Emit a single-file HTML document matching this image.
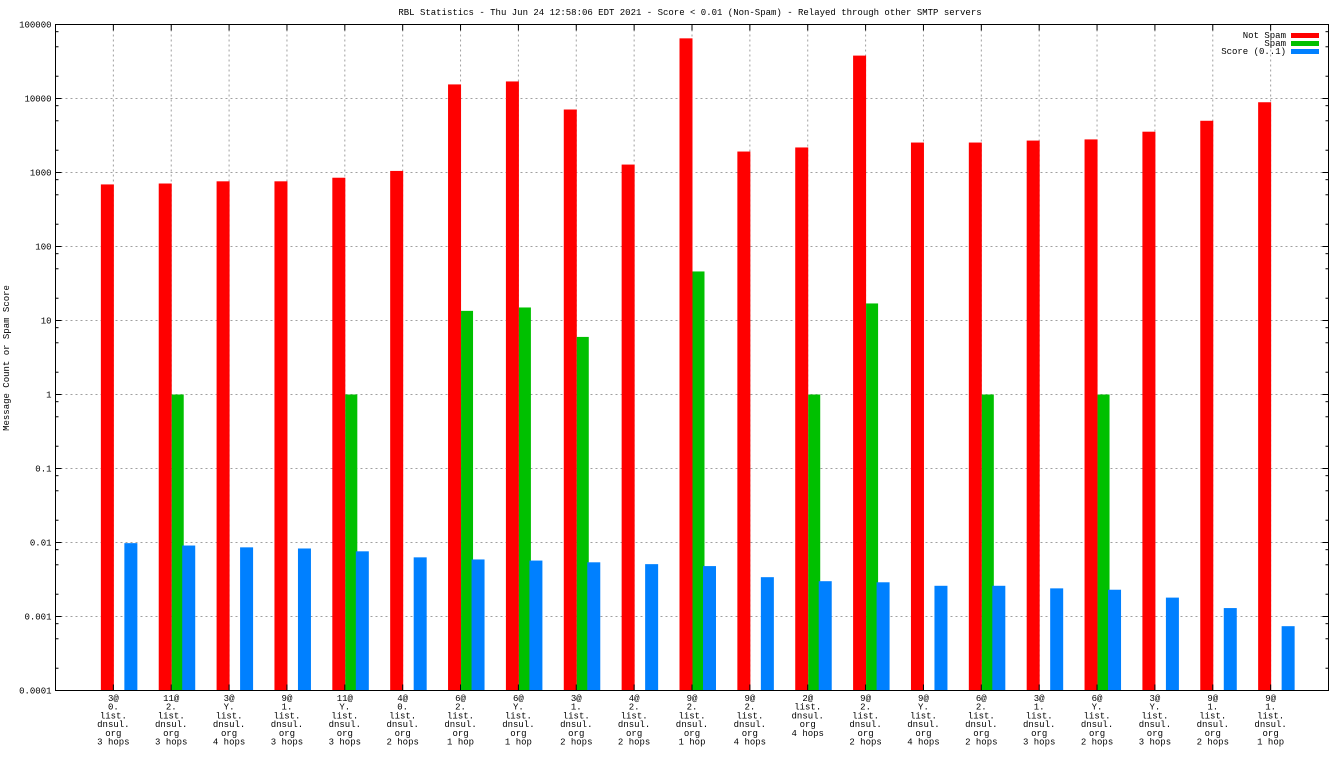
<!DOCTYPE html>
<html><head><meta charset="utf-8"><style>
body{margin:0;background:#fff;}
svg text{font-family:"Liberation Mono",monospace;font-size:9px;fill:#000;}
</style></head><body>
<svg id="chart" width="1344" height="756" xmlns="http://www.w3.org/2000/svg">
<text x="690" y="15" text-anchor="middle">RBL Statistics - Thu Jun 24 12:58:06 EDT 2021 - Score &lt; 0.01 (Non-Spam) - Relayed through other SMTP servers</text>
<text transform="translate(9,358) rotate(-90)" text-anchor="middle">Message Count or Spam Score</text>
<g id="grid"></g><g id="bars"></g><g id="axes"></g><g id="labels"></g>
<g>
<text x="1286" y="38" text-anchor="end">Not Spam</text><rect x="1291" y="33" width="28" height="5" fill="#ff0000"/>
<text x="1286" y="46" text-anchor="end">Spam</text><rect x="1291" y="41" width="28" height="5" fill="#00c000"/>
<text x="1286" y="54" text-anchor="end">Score (0..1)</text><rect x="1291" y="49" width="28" height="5" fill="#0080ff"/>
</g>
</svg>
<script>
const categories=[
["3@","0.","list.","dnsul.","org","3 hops"],["11@","2.","list.","dnsul.","org","3 hops"],["3@","Y.","list.","dnsul.","org","4 hops"],["9@","1.","list.","dnsul.","org","3 hops"],["11@","Y.","list.","dnsul.","org","3 hops"],["4@","0.","list.","dnsul.","org","2 hops"],["6@","2.","list.","dnsul.","org","1 hop"],["6@","Y.","list.","dnsul.","org","1 hop"],["3@","1.","list.","dnsul.","org","2 hops"],["4@","2.","list.","dnsul.","org","2 hops"],["9@","2.","list.","dnsul.","org","1 hop"],["9@","2.","list.","dnsul.","org","4 hops"],["2@","list.","dnsul.","org","4 hops"],["9@","2.","list.","dnsul.","org","2 hops"],["9@","Y.","list.","dnsul.","org","4 hops"],["6@","2.","list.","dnsul.","org","2 hops"],["3@","1.","list.","dnsul.","org","3 hops"],["6@","Y.","list.","dnsul.","org","2 hops"],["3@","Y.","list.","dnsul.","org","3 hops"],["9@","1.","list.","dnsul.","org","2 hops"],["9@","1.","list.","dnsul.","org","1 hop"]];
const notSpam=[690,710,760,760,850,1050,15500,17000,7100,1280,65000,1920,2180,38000,2540,2540,2700,2800,3560,5000,8900];
const spam=[0,1,0,0,1,0,13.5,15,6,0,46,0,1,17,0,1,0,1,0,0,0];
const score=[0.0098,0.0091,0.0086,0.0083,0.0076,0.0063,0.0059,0.0057,0.0054,0.0051,0.0048,0.0034,0.0030,0.0029,0.0026,0.0026,0.0024,0.0023,0.0018,0.0013,0.00074];
const yTicks=["0.0001","0.001","0.01","0.1","1","10","100","1000","10000","100000"];
const NS="http://www.w3.org/2000/svg";
const L=55.5,R=1328.5,T=24.5,B=690.5;
const step=(R-L)/22;
function xc(i){return L+step*(i+1);}
function y(v){return B-(Math.log10(v)+4)*(B-T)/9;}
function mk(p,tag,a){const e=document.createElementNS(NS,tag);for(const k in a)e.setAttribute(k,a[k]);document.getElementById(p).appendChild(e);return e;}
yTicks.forEach((t,k)=>{const v=parseFloat(t),yy=y(v);
 if(k>0&&k<9){const g=mk('grid','line',{x1:L,x2:R,y1:yy,y2:yy,stroke:'#a0a0a0','stroke-dasharray':'2,3'});
 
 }
 const tx=mk('axes','text',{x:L-4,y:yy+3,'text-anchor':'end'});tx.textContent=t;
 
 
 mk('axes','line',{x1:L,x2:L+6,y1:yy,y2:yy,stroke:'#000'});
 mk('axes','line',{x1:R,x2:R-6,y1:yy,y2:yy,stroke:'#000'});
 if(k<9)[2,5,8].forEach(m=>{const my=y(v*m);mk('axes','line',{x1:L,x2:L+3,y1:my,y2:my,stroke:'#000'});mk('axes','line',{x1:R,x2:R-3,y1:my,y2:my,stroke:'#000'});});
});
categories.forEach((c,i)=>{const x=xc(i);
 const g=mk('grid','line',{x1:x,x2:x,y1:T,y2:B,stroke:'#a0a0a0','stroke-dasharray':'2,3'});
 
 
 mk('axes','line',{x1:x,x2:x,y1:T,y2:T+6,stroke:'#000'});
 mk('axes','line',{x1:x,x2:x,y1:B,y2:B-6,stroke:'#000'});
 const r=mk('bars','rect',{x:x-12.5,y:y(notSpam[i]),width:13,height:B-y(notSpam[i]),fill:'#ff0000'});
 
 
 if(spam[i]>0){const s=mk('bars','rect',{x:x+0.5,y:y(spam[i]),width:12,height:B-y(spam[i]),fill:'#00c000'});
 
 }
 const b=mk('bars','rect',{x:x+11,y:y(score[i]),width:13,height:B-y(score[i]),fill:'#0080ff'});
 
 
 c.forEach((ln,j)=>{const t=mk('labels','text',{x:x,y:701+8.7*j,'text-anchor':'middle'});t.textContent=ln;
 
 });
});
mk('axes','rect',{x:L,y:T,width:R-L,height:B-T,fill:'none',stroke:'#000'});
</script>
</body></html>
